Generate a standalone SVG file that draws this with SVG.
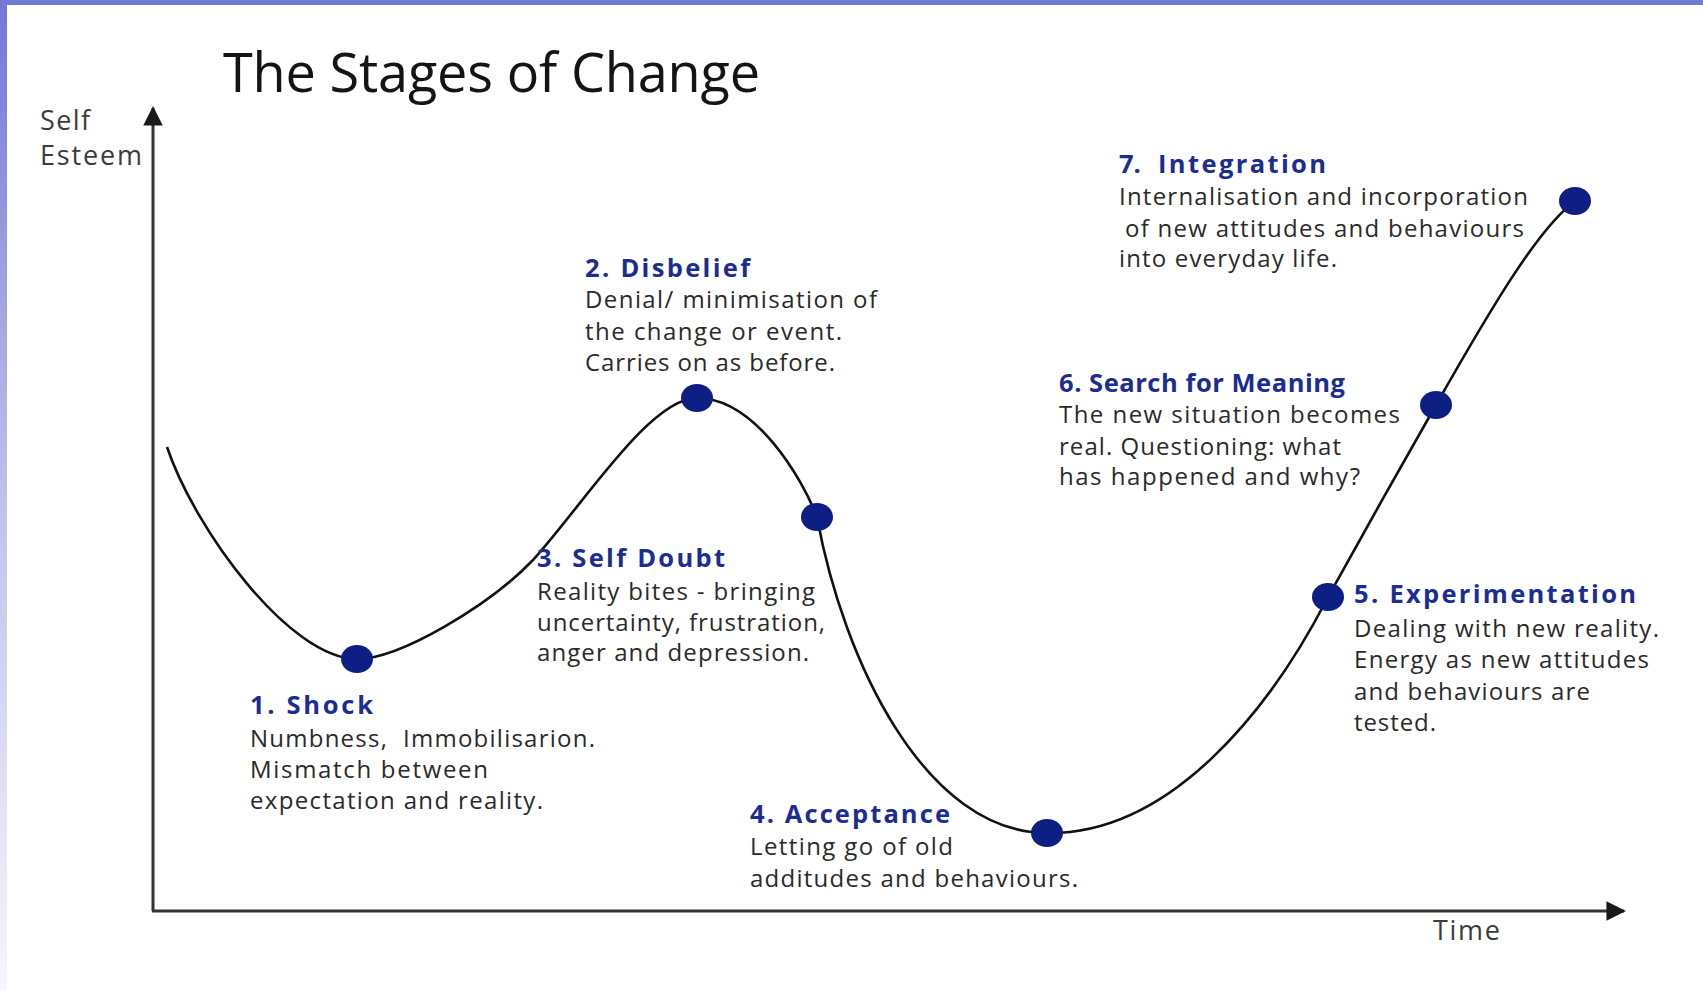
<svg xmlns="http://www.w3.org/2000/svg" width="1703" height="990" viewBox="0 0 1703 990">
<defs>
<linearGradient id="side" x1="0" y1="0" x2="0" y2="1">
<stop offset="0" stop-color="#7276d5"/>
<stop offset="0.5" stop-color="#bfc1ea"/>
<stop offset="1" stop-color="#f6f6fc"/>
</linearGradient>
<marker id="arrow" viewBox="0 0 10 10" refX="9" refY="5" markerWidth="6.5" markerHeight="6.5" orient="auto" markerUnits="strokeWidth">
<path d="M0,0 L10,5 L0,10 Z" fill="#1a1a1a"/>
</marker>
<style>
.title{font-family:"Open Sans","Noto Sans",sans-serif;font-size:54px;fill:#141414}
.axl{font-family:"Open Sans","Noto Sans",sans-serif;font-size:27px;fill:#3c3c3c}
.h{font-family:"Open Sans","Noto Sans",sans-serif;font-size:25.5px;font-weight:bold;fill:#1c2d92}
.b{font-family:"Open Sans","Noto Sans",sans-serif;font-size:24px;fill:#2a2a2a}
.dot{fill:#0e1f84}
.axis{stroke:#333;stroke-width:3;fill:none}
.curve{stroke:#111;stroke-width:2.6;fill:none}
</style>
</defs>
<rect x="0" y="0" width="1703" height="990" fill="#ffffff"/>
<rect x="0" y="0" width="7" height="990" fill="url(#side)"/>
<rect x="0" y="0" width="1703" height="5" fill="#7579d6"/>

<text class="title" x="223" y="92" textLength="537">The Stages of Change</text>

<g id="axes">
<path class="axis" d="M153,911 L153,108" marker-end="url(#arrow)"/>
<path class="axis" d="M152,911 L1624,911" marker-end="url(#arrow)"/>
<text class="axl" x="40" y="130" textLength="50">Self</text>
<text class="axl" x="40" y="165" textLength="102">Esteem</text>
<text class="axl" x="1433" y="940" textLength="67">Time</text>
</g>

<g id="connectors">
<path class="curve" d="M167,447 C195,530 290,659 357,659 C400,659 490,605 533,560 C583,505 650,398 697,398 C755,398 802,478 817,517 C843,660 925,833 1047,833 C1170,835 1270,710 1328,597 C1347,562 1416,440 1436,405 C1495,301 1539,228 1575,201"/>
</g>

<g id="stage1">
<ellipse class="dot" cx="357" cy="659" rx="16" ry="14"/>
<text class="h" x="250" y="714" textLength="123">1. Shock</text>
<text class="b" x="250" y="747" textLength="345" xml:space="preserve">Numbness,  Immobilisarion.</text>
<text class="b" x="250" y="778" textLength="238">Mismatch between</text>
<text class="b" x="250" y="809" textLength="293">expectation and reality.</text>
</g>

<g id="stage2">
<ellipse class="dot" cx="697" cy="398" rx="16" ry="14"/>
<text class="h" x="585" y="277" textLength="165">2. Disbelief</text>
<text class="b" x="585" y="308" textLength="292">Denial/ minimisation of</text>
<text class="b" x="585" y="340" textLength="257">the change or event.</text>
<text class="b" x="585" y="371" textLength="250">Carries on as before.</text>
</g>

<g id="stage3">
<ellipse class="dot" cx="817" cy="517" rx="16" ry="14"/>
<text class="h" x="537" y="567" textLength="188">3. Self Doubt</text>
<text class="b" x="537" y="600" textLength="278">Reality bites - bringing</text>
<text class="b" x="537" y="631" textLength="288">uncertainty, frustration,</text>
<text class="b" x="537" y="661" textLength="272">anger and depression.</text>
</g>

<g id="stage4">
<ellipse class="dot" cx="1047" cy="833" rx="16" ry="14"/>
<text class="h" x="750" y="823" textLength="200">4. Acceptance</text>
<text class="b" x="750" y="855" textLength="203">Letting go of old</text>
<text class="b" x="750" y="887" textLength="328">additudes and behaviours.</text>
</g>

<g id="stage5">
<ellipse class="dot" cx="1328" cy="597" rx="16" ry="14"/>
<text class="h" x="1354" y="603" textLength="282">5. Experimentation</text>
<text class="b" x="1354" y="637" textLength="305">Dealing with new reality.</text>
<text class="b" x="1354" y="668" textLength="295">Energy as new attitudes</text>
<text class="b" x="1354" y="700" textLength="236">and behaviours are</text>
<text class="b" x="1354" y="731" textLength="82">tested.</text>
</g>

<g id="stage6">
<ellipse class="dot" cx="1436" cy="405" rx="16" ry="14"/>
<text class="h" x="1059" y="392" textLength="286">6. Search for Meaning</text>
<text class="b" x="1059" y="423" textLength="341">The new situation becomes</text>
<text class="b" x="1059" y="455" textLength="282">real. Questioning: what</text>
<text class="b" x="1059" y="485" textLength="301">has happened and why?</text>
</g>

<g id="stage7">
<ellipse class="dot" cx="1575" cy="201" rx="16" ry="14"/>
<text class="h" y="173"><tspan x="1119">7.</tspan><tspan x="1158" textLength="168">Integration</tspan></text>
<text class="b" x="1119" y="205" textLength="409">Internalisation and incorporation</text>
<text class="b" x="1125" y="237" textLength="399">of new attitudes and behaviours</text>
<text class="b" x="1119" y="267" textLength="218">into everyday life.</text>
</g>
</svg>
